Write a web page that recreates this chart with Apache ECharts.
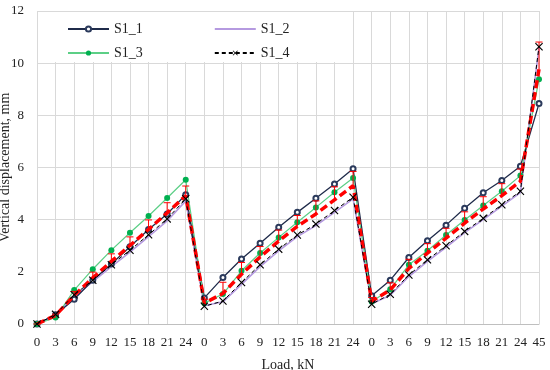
<!DOCTYPE html>
<html>
<head>
<meta charset="utf-8">
<script src="https://cdn.jsdelivr.net/npm/echarts@6/dist/echarts.min.js"></script>
<style>html,body{margin:0;padding:0;background:#fff;}#c{width:550px;height:370px;}</style>
</head>
<body>
<div id="c"></div>
<script>
var categories = ['0','3','6','9','12','15','18','21','24','0','3','6','9','12','15','18','21','24','0','3','6','9','12','15','18','21','24','45'];
var yTicks = [0, 2, 4, 6, 8, 10, 12];
var s1_1 = [0,0.35,0.95,1.68,2.30,2.96,3.62,4.22,4.96, 1.00,1.78,2.49,3.10,3.71,4.28,4.82,5.37,5.95, 1.08,1.68,2.55,3.19,3.79,4.44,5.03,5.50,6.05, 8.45];
var s1_2 = [0,0.35,1.05,1.62,2.20,2.76,3.35,3.95,4.72, 0.70,0.85,1.52,2.20,2.80,3.35,3.77,4.28,4.80, 0.78,1.10,1.82,2.40,2.94,3.50,4.00,4.52,5.04, 10.60];
var s1_3 = [0,0.25,1.30,2.10,2.83,3.50,4.14,4.83,5.53, 0.80,1.15,2.04,2.72,3.32,3.90,4.47,5.05,5.60, 0.85,1.33,2.27,2.81,3.41,3.99,4.54,5.09,5.69, 9.38];
var s1_4 = [0,0.37,1.12,1.68,2.27,2.83,3.42,4.03,4.80, 0.68,0.88,1.59,2.27,2.87,3.41,3.83,4.35,4.86, 0.76,1.14,1.88,2.46,3.00,3.55,4.05,4.57,5.09, 10.63];
var meanVals = [0,0.33,1.10,1.77,2.40,3.01,3.63,4.26,4.92, 0.80,1.17,1.91,2.57,3.18,3.74,4.22,4.76,5.30, 0.87,1.31,2.13,2.72,3.29,3.87,4.41,4.92,5.47, 9.77];
var errTop = [0,0.38,1.25,1.99,2.69,3.34,3.99,4.65,5.29, 0.95,1.60,2.36,2.97,3.60,4.16,4.72,5.26,5.85, 1.02,1.58,2.48,3.08,3.67,4.30,4.88,5.38,5.94, 10.81];

var FONT = 'Liberation Serif';
var xPath = 'path://M1,0 L5,4 L9,0 L10,1 L6,5 L10,9 L9,10 L5,6 L1,10 L0,9 L4,5 L0,1 Z';

var errData = meanVals.map(function (m, i) { return [i, m, errTop[i]]; });

var legendCommon = {
  left: 67, padding: 0, itemWidth: 41, itemHeight: 6.5, itemGap: 71,
  textStyle: {fontFamily: FONT, fontSize: 14, color: '#222'}, z: 5
};

var chart = echarts.init(document.getElementById('c'), null, {renderer: 'canvas'});
chart.setOption({
  animation: false,
  backgroundColor: '#fff',
  textStyle: {fontFamily: FONT},
  grid: {left: 37, right: 11, top: 11, bottom: 46, containLabel: false, outerBoundsMode: 'none'},
  graphic: [{
    type: 'rect', left: 38, top: 12, shape: {width: 297, height: 50},
    style: {fill: '#fff'}, z: 1, silent: true
  }],
  legend: [
    Object.assign({}, legendCommon, {top: 22, data: ['S1_1', {name: 'S1_2', itemStyle: {opacity: 0}}]}),
    Object.assign({}, legendCommon, {top: 46, data: ['S1_3', 'S1_4']})
  ],
  xAxis: {
    type: 'category', data: categories, boundaryGap: false,
    name: 'Load, kN', nameLocation: 'middle', nameGap: 34, nameMoveOverlap: false,
    nameTextStyle: {fontFamily: FONT, fontSize: 14, color: '#222'},
    axisLine: {lineStyle: {color: '#bfbfbf', width: 1}},
    axisTick: {show: false},
    axisLabel: {interval: 0, margin: 12, fontFamily: FONT, fontSize: 13, color: '#222'},
    splitLine: {show: true, interval: 0, lineStyle: {color: '#d9d9d9', width: 1}}
  },
  yAxis: {
    type: 'value', min: yTicks[0], max: yTicks[yTicks.length - 1], interval: 2,
    name: 'Vertical displacement, mm', nameLocation: 'middle', nameGap: 25, nameMoveOverlap: false,
    nameTextStyle: {fontFamily: FONT, fontSize: 14, color: '#222'},
    axisLine: {show: false}, axisTick: {show: false},
    axisLabel: {margin: 13, fontFamily: FONT, fontSize: 13, color: '#222'},
    splitLine: {show: true, lineStyle: {color: '#d9d9d9', width: 1}}
  },
  series: [{
    name: 'S1_2', type: 'line', data: s1_2, symbol: 'circle', showSymbol: false, symbolSize: 0, z: 2,
    color: '#b59ae0', lineStyle: {color: '#b59ae0', width: 1.6}
  }, {
    name: 'S1_1', type: 'line', data: s1_1, symbol: 'emptyCircle', symbolSize: 5, z: 2,
    color: '#2b3a5c', itemStyle: {color: '#2b3a5c', borderWidth: 1},
    lineStyle: {color: '#1f2b4a', width: 1.3}
  }, {
    name: 'S1_3', type: 'line', data: s1_3, symbol: 'circle', symbolSize: 6, z: 2,
    color: '#00b050', itemStyle: {color: '#00b050'},
    lineStyle: {color: '#5ccf86', width: 1.2}
  }, {
    name: 'Mean', type: 'line', data: meanVals, symbol: 'none', z: 3,
    lineStyle: {color: '#ff0000', width: 3.5, type: [8, 4]}
  }, {
    name: 'Err', type: 'custom', data: errData, z: 3,
    renderItem: function (params, api) {
      var i = api.value(0);
      var p0 = api.coord([i, api.value(1)]);
      var p1 = api.coord([i, api.value(2)]);
      var st = {stroke: '#ff0000', lineWidth: 1};
      return {type: 'group', children: [
        {type: 'line', shape: {x1: p0[0], y1: p0[1], x2: p1[0], y2: p1[1]}, style: st},
        {type: 'line', shape: {x1: p1[0] - 3.5, y1: p1[1], x2: p1[0] + 3.5, y2: p1[1]}, style: st}
      ]};
    }
  }, {
    name: 'S1_4', type: 'line', data: s1_4, symbol: xPath, symbolSize: 8, z: 4,
    color: '#000', itemStyle: {color: '#000'},
    lineStyle: {color: '#000', width: 1, type: [4, 3]}
  }]
});
</script>
</body>
</html>
